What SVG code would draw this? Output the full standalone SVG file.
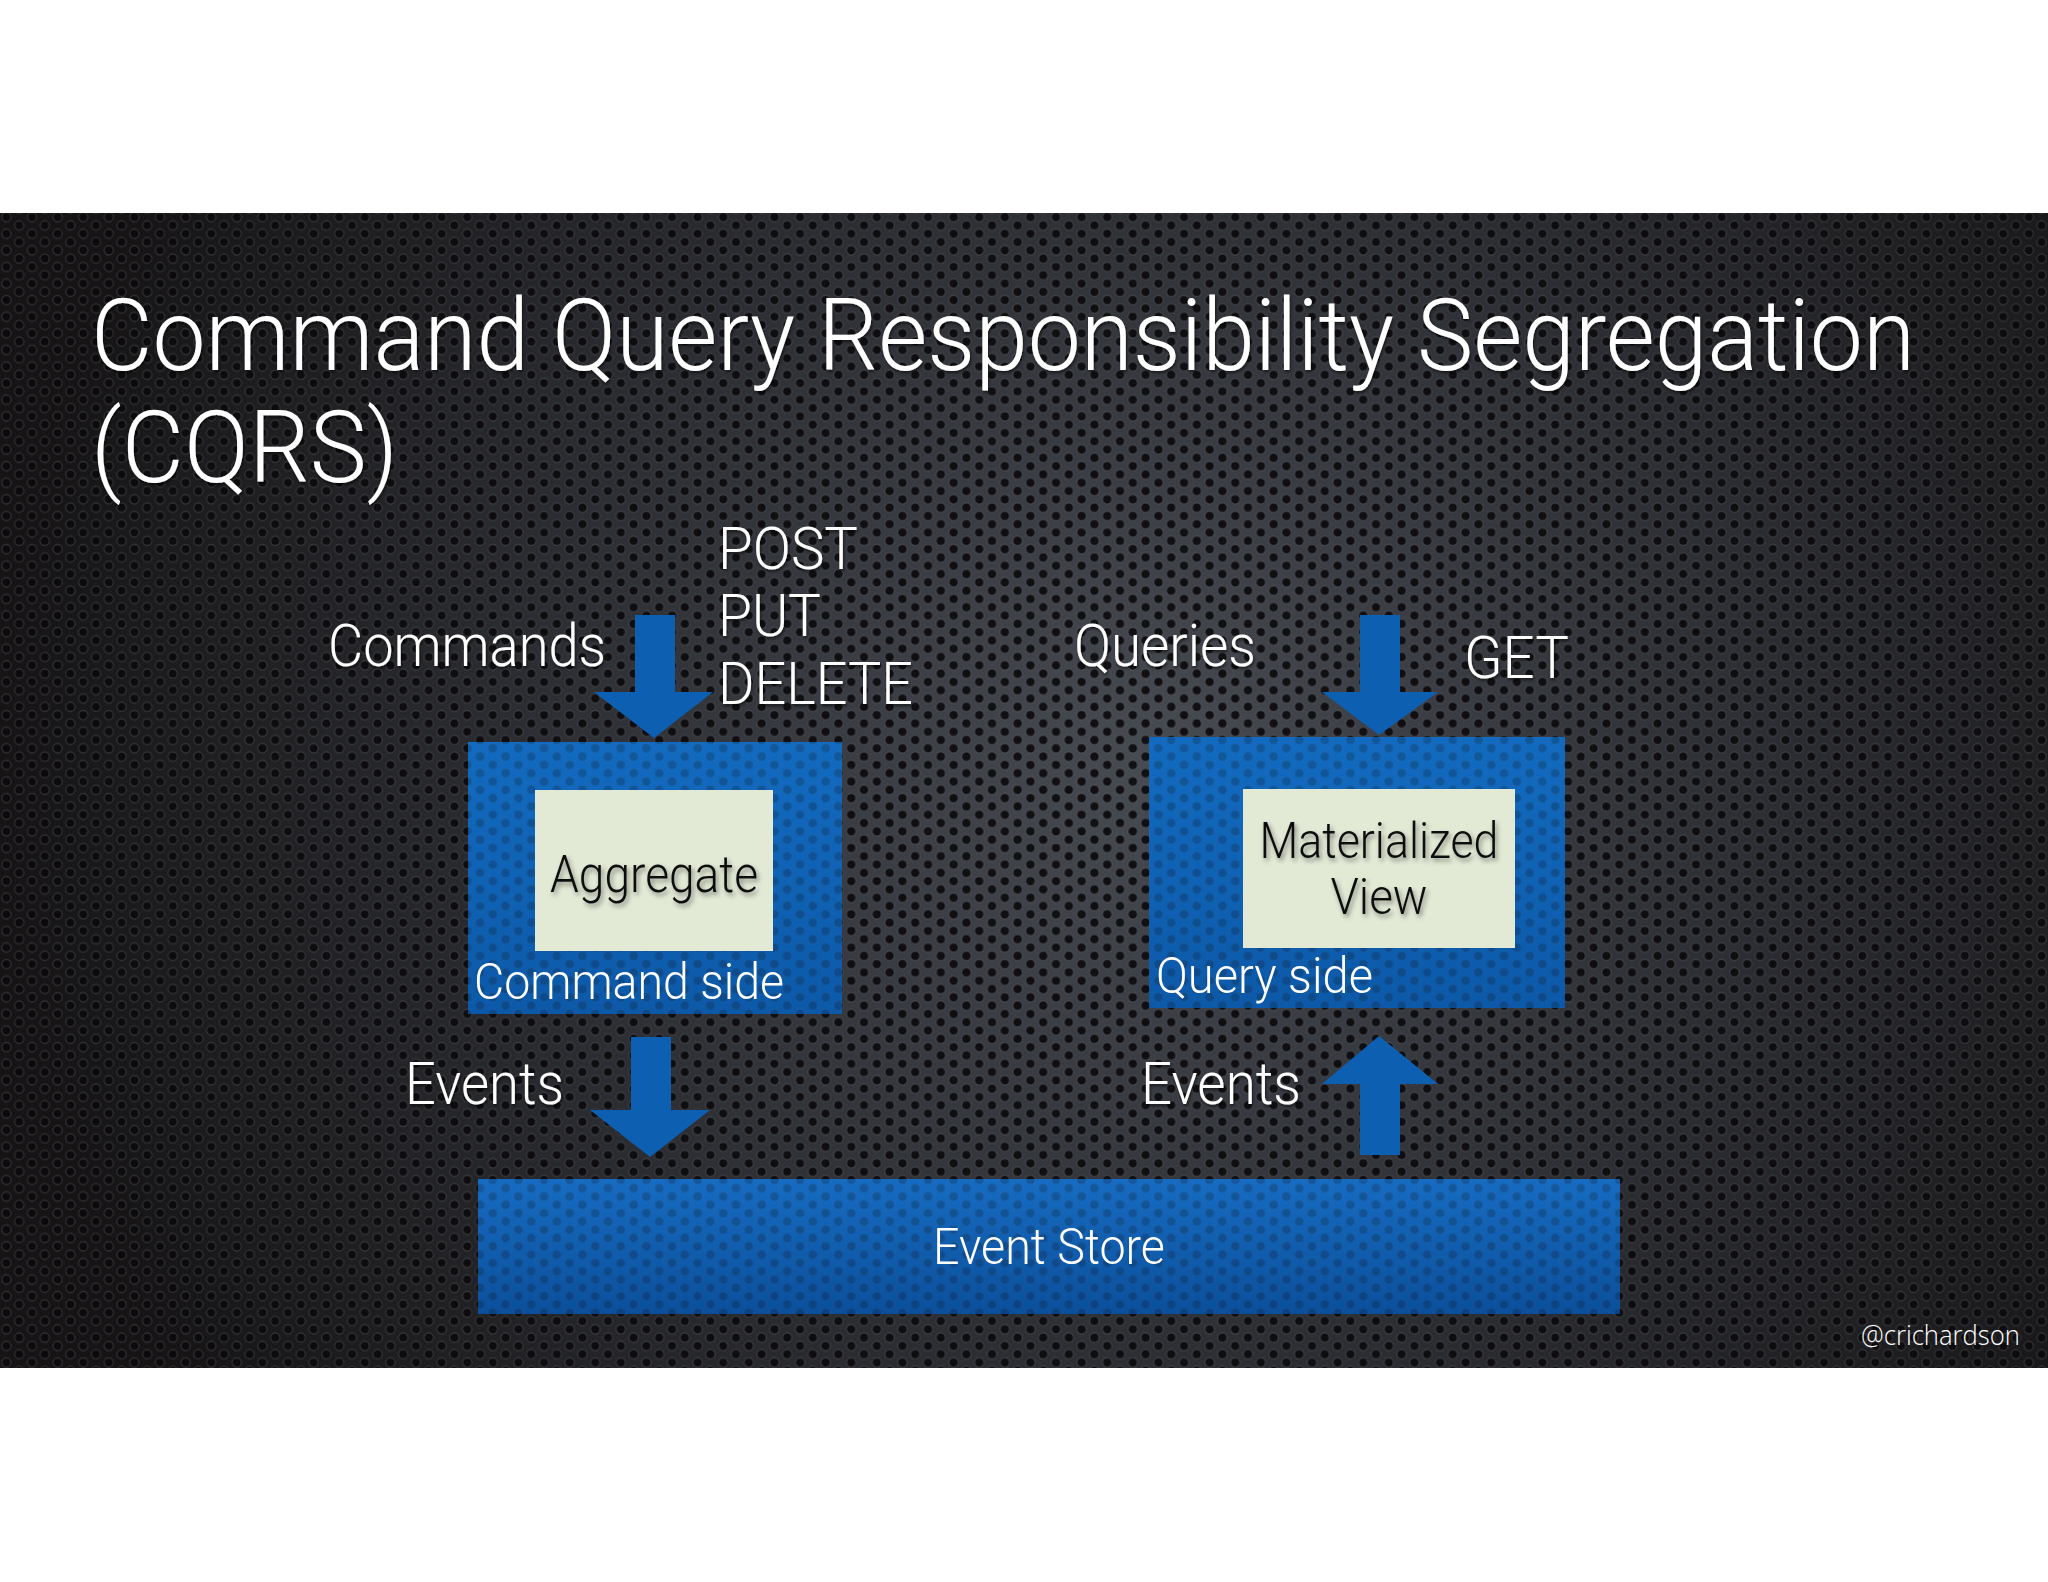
<svg xmlns="http://www.w3.org/2000/svg" width="2048" height="1582" viewBox="0 0 2048 1582">
  <defs>
    <radialGradient id="bandGlow" cx="1150" cy="760" r="1150" gradientUnits="userSpaceOnUse">
      <stop offset="0" stop-color="#474b52"/>
      <stop offset="0.55" stop-color="#2b2d32"/>
      <stop offset="1" stop-color="#161415"/>
    </radialGradient>
    <pattern id="holes" x="0" y="213" width="25.6" height="16.6" patternUnits="userSpaceOnUse">
      <g fill="#0b090b" stroke="#60646c" stroke-opacity="0.4" stroke-width="1.3">
        <circle cx="6.4" cy="4.15" r="4.6"/>
        <circle cx="19.2" cy="12.45" r="4.6"/>
        <circle cx="-6.4" cy="12.45" r="4.6"/>
        <circle cx="32" cy="4.15" r="4.6"/>
        <circle cx="19.2" cy="-4.15" r="4.6"/>
        <circle cx="6.4" cy="20.75" r="4.6"/>
        <circle cx="-6.4" cy="-4.15" r="4.6"/>
        <circle cx="32" cy="20.75" r="4.6"/>
      </g>
    </pattern>
    <linearGradient id="blueBox" x1="0" y1="0" x2="0" y2="1">
      <stop offset="0" stop-color="#126bc0"/>
      <stop offset="1" stop-color="#0c59a9"/>
    </linearGradient>
    <linearGradient id="storeGrad" x1="0" y1="0" x2="0" y2="1">
      <stop offset="0" stop-color="#166cc2"/>
      <stop offset="1" stop-color="#0b4f9c"/>
    </linearGradient>
    <filter id="softShadow" x="-10%" y="-20%" width="120%" height="150%">
      <feGaussianBlur in="SourceAlpha" stdDeviation="2.5"/>
      <feOffset dx="2" dy="3" result="b"/>
      <feComponentTransfer><feFuncA type="linear" slope="0.45"/></feComponentTransfer>
      <feMerge><feMergeNode/><feMergeNode in="SourceGraphic"/></feMerge>
    </filter>
    <filter id="whiteShadow" x="-10%" y="-20%" width="120%" height="150%">
      <feGaussianBlur in="SourceAlpha" stdDeviation="1.5"/>
      <feOffset dx="1" dy="2"/>
      <feComponentTransfer><feFuncA type="linear" slope="0.6"/></feComponentTransfer>
      <feMerge><feMergeNode/><feMergeNode in="SourceGraphic"/></feMerge>
    </filter>
  </defs>
  <style>
    .w { fill: #ffffff; font-family: Roboto, "Liberation Sans", Arial, sans-serif; font-weight: 300; }
    .k { fill: #111111; font-family: Roboto, "Liberation Sans", Arial, sans-serif; font-weight: 300; }
    .blue { fill: url(#blueBox); }
    .inner { fill: #e2ead6; }
    .arrow { fill: #0d5fb2; }
    .tex { fill: url(#holes); opacity: 0.2; }
  </style>

  <rect x="0" y="0" width="2048" height="1582" fill="#ffffff"/>
  <g id="background">
    <rect x="0" y="213" width="2048" height="1155" fill="url(#bandGlow)"/>
    <rect x="0" y="213" width="2048" height="1155" fill="url(#holes)" opacity="0.9"/>
  </g>

  <g id="title" filter="url(#whiteShadow)">
    <text class="w" x="91" y="370" font-size="100" textLength="1824" lengthAdjust="spacingAndGlyphs">Command Query Responsibility Segregation</text>
    <text class="w" x="91" y="482" font-size="100" textLength="307" lengthAdjust="spacingAndGlyphs">(CQRS)</text>
  </g>

  <g id="command-side">
    <rect class="blue" x="468" y="742" width="374" height="272"/>
    <rect class="tex" x="468" y="742" width="374" height="272"/>
    <text class="w" x="474" y="999" font-size="50" textLength="310" lengthAdjust="spacingAndGlyphs">Command side</text>
  </g>
  <g id="aggregate">
    <rect class="inner" x="535" y="790" width="238" height="161"/>
    <text class="k" x="654" y="892" font-size="52" text-anchor="middle" textLength="208" lengthAdjust="spacingAndGlyphs" filter="url(#softShadow)">Aggregate</text>
  </g>

  <g id="query-side">
    <rect class="blue" x="1149" y="737" width="416" height="271"/>
    <rect class="tex" x="1149" y="737" width="416" height="271"/>
    <text class="w" x="1156" y="993" font-size="50" textLength="217" lengthAdjust="spacingAndGlyphs">Query side</text>
  </g>
  <g id="materialized-view">
    <rect class="inner" x="1243" y="789" width="272" height="159"/>
    <text class="k" x="1379" y="858" font-size="50" text-anchor="middle" textLength="239" lengthAdjust="spacingAndGlyphs" filter="url(#softShadow)">Materialized</text>
    <text class="k" x="1379" y="914" font-size="50" text-anchor="middle" textLength="97" lengthAdjust="spacingAndGlyphs" filter="url(#softShadow)">View</text>
  </g>

  <g id="event-store">
    <rect x="478" y="1179" width="1142" height="135" fill="url(#storeGrad)"/>
    <rect class="tex" x="478" y="1179" width="1142" height="135"/>
    <text class="w" x="1049" y="1264" font-size="50" text-anchor="middle" textLength="232" lengthAdjust="spacingAndGlyphs">Event Store</text>
  </g>

  <g id="connectors">
    <polygon class="arrow" points="635,615 675,615 675,692 713,692 654,738 594,692 635,692"/>
    <polygon class="arrow" points="631,1037 671,1037 671,1110 710,1110 650,1157 590,1110 631,1110"/>
    <polygon class="arrow" points="1360,615 1400,615 1400,692 1438,692 1379,735 1322,692 1360,692"/>
    <polygon class="arrow" points="1360,1155 1400,1155 1400,1084 1438,1084 1379,1036 1322,1084 1360,1084"/>
  </g>

  <g id="labels" filter="url(#whiteShadow)">
    <text class="w" x="328" y="666" font-size="60" textLength="278" lengthAdjust="spacingAndGlyphs">Commands</text>
    <text class="w" x="718" y="569" font-size="60" textLength="140" lengthAdjust="spacingAndGlyphs">POST</text>
    <text class="w" x="718" y="636" font-size="60" textLength="103" lengthAdjust="spacingAndGlyphs">PUT</text>
    <text class="w" x="718" y="704" font-size="60" textLength="195" lengthAdjust="spacingAndGlyphs">DELETE</text>
    <text class="w" x="1074" y="666" font-size="60" textLength="182" lengthAdjust="spacingAndGlyphs">Queries</text>
    <text class="w" x="1464" y="678" font-size="60" textLength="105" lengthAdjust="spacingAndGlyphs">GET</text>
    <text class="w" x="405" y="1104" font-size="60" textLength="159" lengthAdjust="spacingAndGlyphs">Events</text>
    <text class="w" x="1141" y="1104" font-size="60" textLength="160" lengthAdjust="spacingAndGlyphs">Events</text>
  </g>

  <text id="credit" class="w" x="1861" y="1345" font-size="28" textLength="159" lengthAdjust="spacingAndGlyphs" style="font-family: 'Open Sans', 'Liberation Sans', sans-serif; font-weight: 300;">@crichardson</text>
</svg>
